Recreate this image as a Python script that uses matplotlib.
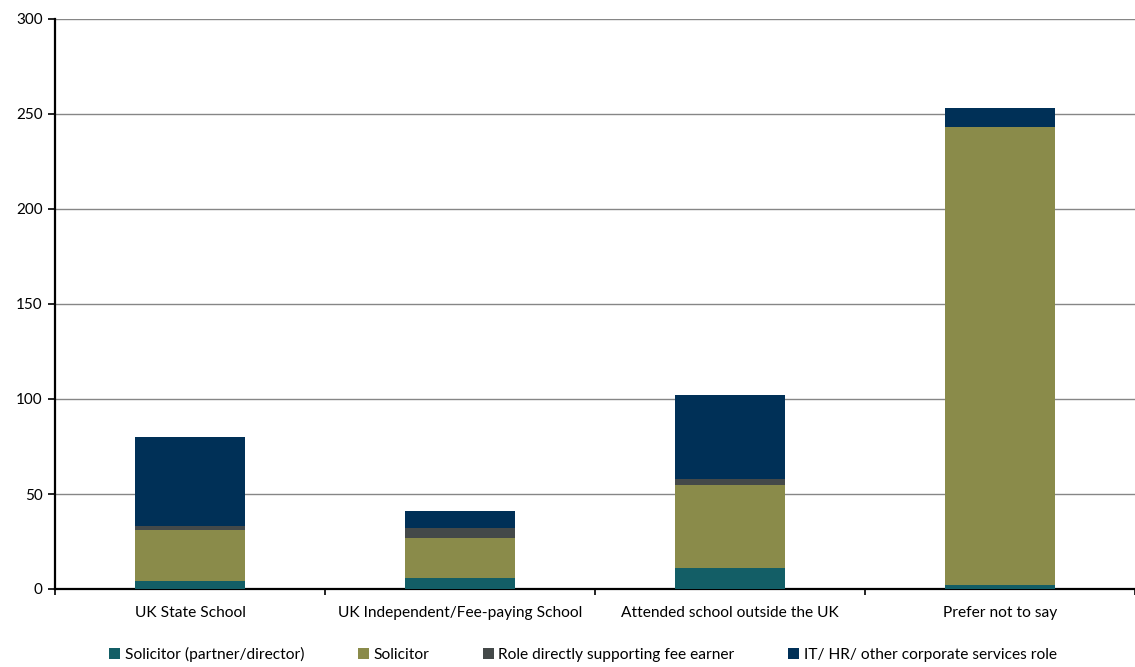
import matplotlib.pyplot as plt
import numpy as np

# school background categories and head counts per role
categories = ['UK State School', 'UK Independent/Fee-paying School',
              'Attended school outside the UK', 'Prefer not to say']
partner = [4, 6, 11, 2]
solicitor = [27, 21, 44, 241]
support = [2, 5, 3, 0]
corporate = [47, 9, 44, 10]

series = [
    ('Solicitor (partner/director)', partner, '#135E66'),
    ('Solicitor', solicitor, '#8A8B4A'),
    ('Role directly supporting fee earner', support, '#444949'),
    ('IT/ HR/ other corporate services role', corporate, '#003057'),
]

plt.rcParams['font.family'] = ['Lato', 'DejaVu Sans']

fig = plt.figure(figsize=(11.35, 6.67), dpi=100)
ax = fig.add_axes([55 / 1135, 78 / 667, 1080 / 1135, 570 / 667])

x = np.arange(len(categories))
bottom = np.zeros(len(categories))
for name, values, color in series:
    ax.bar(x, values, width=0.405, bottom=bottom, color=color, label=name, zorder=3)
    bottom += np.array(values)

ax.set_ylim(0, 300)
ax.set_yticks(range(0, 301, 50))
ax.set_xlim(-0.5, -0.5 + 1080 / 271)
ax.set_xticks(x)
ax.set_xticklabels(categories)
ax.set_xticks(np.arange(len(categories) + 1) - 0.5, minor=True)
ax.tick_params(axis='x', which='major', length=0, pad=12, labelsize=11.2)
ax.tick_params(axis='x', which='minor', length=4, width=1.2, direction='out')
ax.tick_params(axis='y', length=5, width=1.2, labelsize=11, pad=4)

ax.grid(axis='y', color='#868686', linewidth=1.0, zorder=0)
for side in ['top', 'right']:
    ax.spines[side].set_visible(False)
ax.spines['left'].set_linewidth(1.6)
ax.spines['bottom'].set_linewidth(1.6)

fig.legend(loc='center', bbox_to_anchor=(583 / 1135, 1 - 654 / 667), ncol=4,
           frameon=False, fontsize=11.2, handlelength=0.7, handleheight=0.7,
           handletextpad=0.3, columnspacing=3.45)

fig.savefig('out.png', dpi=100)
